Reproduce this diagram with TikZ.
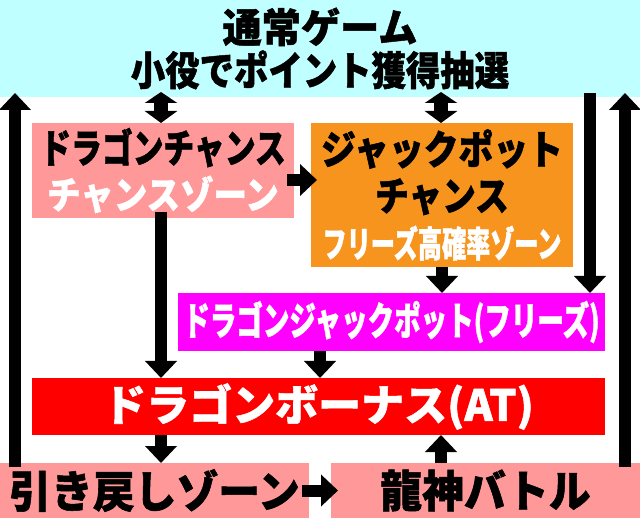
\documentclass[tikz,border=0pt]{standalone}
\usepackage{fontspec}
\usetikzlibrary{arrows.meta, positioning, calc}
\newfontfamily\jpfont{Noto Sans CJK JP}
\newcommand{\jpsize}[3]{\jpfont\bfseries\fontsize{#1}{#2}\selectfont\addfontfeature{FakeStretch=#3,FakeBold=1.2}}
\definecolor{gamecyan}{RGB}{192,255,255}
\definecolor{zonepink}{RGB}{255,153,153}
\definecolor{jporange}{RGB}{247,148,30}
\definecolor{jpmagenta}{RGB}{255,0,255}
\definecolor{bonusred}{RGB}{255,0,0}

\begin{document}
\begin{tikzpicture}[x=1pt,y=-1pt,
  box/.style={rectangle,inner sep=0pt,outer sep=0pt,align=center},
  arr/.style={-{Triangle[width=31pt,length=17pt]},line width=12pt,black},
  dblarr/.style={{Triangle[width=32pt,length=11pt]}-{Triangle[width=32pt,length=12pt]},line width=14pt,black}
]
\useasboundingbox (0,0) rectangle (640,518);
\node[box,fill=gamecyan,minimum width=640pt,minimum height=97pt,font={\jpsize{40}{43}{0.98}}] (game) at (320,48.5)
  {通常ゲーム\\{\jpsize{40}{43}{0.86}小役でポイント獲得抽選}};
\node[box,fill=zonepink,minimum width=262pt,minimum height=95pt,font={\jpsize{40}{46}{0.77}}] (dc) at (163,170.5)
  {ドラゴンチャンス\\{\color{white}\jpsize{38}{46}{0.88}チャンスゾーン}};
\node[box,fill=jporange,minimum width=262pt,minimum height=144pt,font={\jpsize{40}{46.5}{0.87}}] (jp) at (442,195)
  {ジャックポット\\{\addfontfeature{FakeStretch=0.84}チャンス}\\{\color{white}\jpsize{36}{46.5}{0.67}フリーズ高確率ゾーン}};
\node[box,fill=jpmagenta,text=white,minimum width=427pt,minimum height=58pt,font={\jpsize{39}{40}{0.68}}] (djp) at (391.5,322)
  {ドラゴンジャックポット(フリーズ)};
\node[box,fill=bonusred,text=white,minimum width=573pt,minimum height=57pt,font={\jpsize{43}{46}{1}}] (bonus) at (318.5,406.5)
  {ドラゴンボーナス(AT)};
\node[box,fill=zonepink,minimum width=309pt,minimum height=55pt,font={\jpsize{44}{46}{0.95}}] (back) at (154.5,490.5)
  {引き戻しゾーン};
\node[box,fill=zonepink,minimum width=309pt,minimum height=55pt,font={\jpsize{44}{46}{0.95}}] (battle) at (485.5,490.5)
  {龍神バトル};

% game <-> chance zones
\draw[dblarr,shorten <=-5pt] ([xshift=-2pt]dc.north |- game.south) -- ([xshift=-2pt]dc.north);
\draw[dblarr,shorten <=-5pt] ([xshift=-1pt]jp.north |- game.south) -- ([xshift=-1pt]jp.north);
\draw[arr,shorten <=-7pt,shorten >=-6pt] ([yshift=-9.5pt]dc.east) -- ([yshift=-9.5pt]dc.east -| jp.west);
\draw[arr] (jp.south) -- (jp.south |- djp.north);
\draw[arr,shorten <=-4pt] ([xshift=-15pt]djp.north east |- game.south) -- ([xshift=-15pt]djp.north east);
% into the bonus
\draw[arr,shorten <=-6pt] ([xshift=-2pt]dc.south) -- ([xshift=-2pt]dc.south |- bonus.north);
\draw[arr] ([xshift=1.5pt]bonus.north |- djp.south) -- ([xshift=1.5pt]bonus.north);
\draw[arr] ([xshift=-2pt]dc.south |- bonus.south) -- ([xshift=-2pt]dc.south |- back.north);
\draw[arr] ([xshift=-1pt]jp.south |- battle.north) -- ([xshift=-1pt]jp.south |- bonus.south);
\draw[arr,shorten <=-7pt,shorten >=-7pt] (back.east) -- (battle.west);
% back to normal game
\draw[arr,shorten <=-4pt,shorten >=-4pt] ([xshift=15pt]back.north west) -- ([xshift=15pt]back.north west |- game.south);
\draw[arr,shorten <=-4pt,shorten >=-4pt] ([xshift=-15pt]battle.north east) -- ([xshift=-15pt]battle.north east |- game.south);
\end{tikzpicture}
\end{document}
